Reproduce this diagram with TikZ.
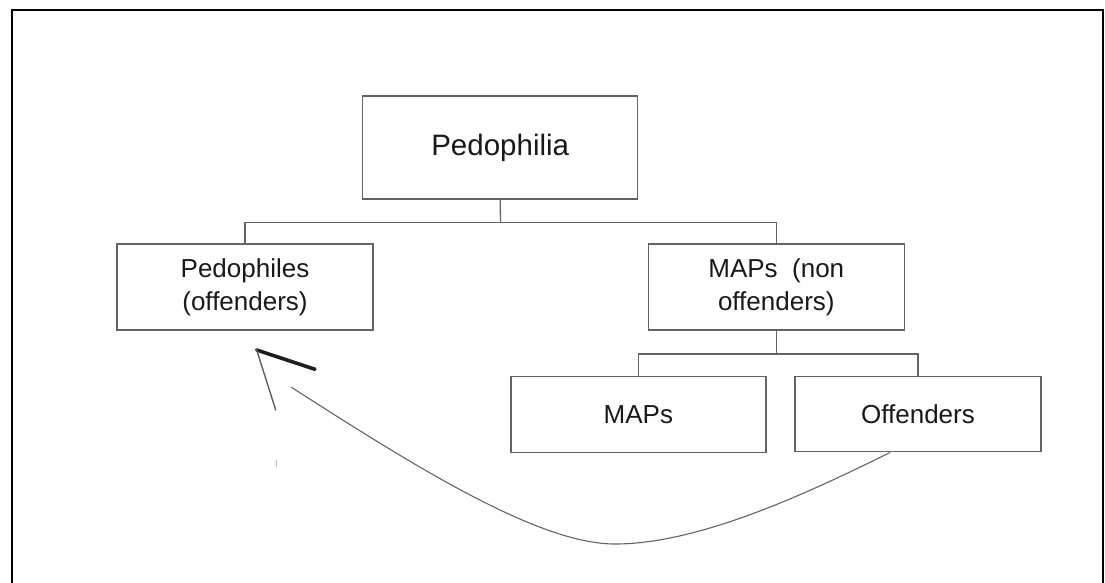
\documentclass[tikz,border=0pt]{standalone}
\usepackage{fontspec}
\setmainfont{Liberation Sans}
\definecolor{lineg}{RGB}{100,100,100}
\definecolor{textg}{RGB}{25,25,25}
\definecolor{darkstroke}{RGB}{30,30,30}
\definecolor{midstroke}{RGB}{95,95,95}
\definecolor{faintg}{RGB}{190,190,190}
\begin{document}
\begin{tikzpicture}[x=1pt,y=-1pt,
  boxline/.style={draw=lineg, line width=1.3pt},
  tbox/.style={boxline, rectangle, inner sep=0pt, align=center, text=textg},
  smalltext/.style={font=\fontsize{26}{33}\selectfont},
  bigtext/.style={font=\fontsize{29.5}{34}\selectfont},
  link/.style={boxline},
  frameline/.style={draw=black, line width=2.2pt}]
\useasboundingbox (0,0) rectangle (1105,582);
% outer frame (bottom edge outside picture)
\draw[frameline] (12,584) -- (12,10) -- (1103.3,10) -- (1103.3,584);
% nodes
\node[tbox, bigtext, minimum width=275pt, minimum height=103pt] (ped) at (500.2,147.4) {Pedophilia};
\node[tbox, smalltext, minimum width=256pt, minimum height=86pt] (left) at (245,287) {Pedophiles\\(offenders)};
\node[tbox, smalltext, minimum width=256pt, minimum height=86pt] (right) at (776.3,287) {MAPs\ \ (non\\offenders)};
\node[tbox, smalltext, minimum width=255pt, minimum height=76pt] (maps) at (638.4,414.7) {MAPs};
\node[tbox, smalltext, minimum width=246pt, minimum height=75pt] (off) at (918,414.2) {Offenders};
% junctions
\coordinate (j1) at (500.5,222.3);
\coordinate (j2) at (776.3,354);
\draw[link] (ped.south) -- (j1);
\draw[link] (left.north) |- (j1) -| (right.north);
\draw[link] (right.south) -- (j2);
\draw[link] (maps.north) |- (j2) -| (off.north);
% hand-drawn curved arrow
\coordinate (cend) at (291,387);
\coordinate (cmin) at (615,544);
\draw[link, line width=1.1pt] (off.234) .. controls (810,492) and (700,544) .. (cmin)
  .. controls (540,544) and (420,470) .. (cend);
\coordinate (tip) at (256.7,350);
\coordinate (barb1) at (315,369.3);
\coordinate (barb2) at (275.7,410);
\draw[draw=darkstroke, line width=3.6pt, line cap=round] (tip) -- (barb1);
\draw[draw=midstroke, line width=1.4pt, line cap=round] (tip) -- (barb2);
\fill[faintg] (275.7,460) rectangle (277,467);
\end{tikzpicture}
\end{document}
